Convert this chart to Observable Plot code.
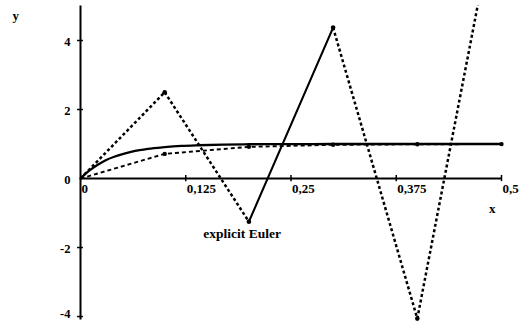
<!DOCTYPE html>
<html>
<head>
<meta charset="utf-8">
<script src="https://cdn.jsdelivr.net/npm/d3@7"></script>
<script src="https://cdn.jsdelivr.net/npm/@observablehq/plot@0.6"></script>
<style>
  html, body { margin: 0; padding: 0; background: #fff; }
  #chart svg { display: block; }
</style>
</head>
<body>
<div id="chart"></div>
<script>
// Axis ticks and their labels (decimal comma)
const xTicks = [0, 0.125, 0.25, 0.375, 0.5];
const xTickLabels = ["0", "0,125", "0,25", "0,375", "0,5"];
const yTicks = [-4, -2, 0, 2, 4];
const yTickLabels = ["-4", "-2", "0", "2", "4"];

// Exact solution of the stiff problem
const exactX = [0, 0.005, 0.01, 0.02, 0.03, 0.04, 0.05, 0.06, 0.07, 0.08, 0.1, 0.12, 0.14, 0.17, 0.2, 0.25, 0.3, 0.4, 0.5];
const exactY = [0, 0.12, 0.22, 0.39, 0.53, 0.63, 0.71, 0.77, 0.82, 0.86, 0.91, 0.945, 0.965, 0.985, 0.993, 0.998, 1, 1, 1];

// Explicit Euler steps (h = 0.1), oscillating
const eulerX = [0, 0.1, 0.2, 0.3, 0.4, 0.5];
const eulerY = [0, 2.5, -1.25, 4.375, -4.06, 8.59];
// segment drawn solid (index of its starting step)
const solidSegment = 2;

// Implicit Euler steps (h = 0.1)
const implicitX = [0, 0.1, 0.2, 0.3, 0.4, 0.5];
const implicitY = [0, 0.714, 0.918, 0.977, 0.993, 0.998];

const exact = exactX.map((x, i) => ({x, y: exactY[i]}));
const euler = eulerX.map((x, i) => ({x, y: eulerY[i]}));
const implicit = implicitX.map((x, i) => ({x, y: implicitY[i]}));

// split explicit Euler into segments so one can be solid
const eulerSegs = [];
for (let i = 0; i < euler.length - 1; i++) {
  eulerSegs.push({seg: i, x: euler[i].x, y: euler[i].y});
  eulerSegs.push({seg: i, x: euler[i + 1].x, y: euler[i + 1].y});
}
const dashedSegs = eulerSegs.filter(d => d.seg !== solidSegment);
const solidSegs = eulerSegs.filter(d => d.seg === solidSegment);

const font = "'Liberation Serif', 'DejaVu Serif', serif";

const chart = Plot.plot({
  width: 519,
  height: 322,
  marginLeft: 80,
  marginRight: 18,
  marginTop: 5.5,
  marginBottom: 2.5,
  x: {domain: [0, 0.5], axis: null},
  y: {domain: [-4.1, 5], axis: null},
  style: {fontFamily: font, background: "#fff"},
  marks: [
    // axes through the origin
    Plot.ruleY([0], {x1: 0, x2: 0.5, stroke: "#000", strokeWidth: 2}),
    Plot.ruleX([0], {y1: -4.1, y2: 5, stroke: "#000", strokeWidth: 2}),
    Plot.ruleX(xTicks.slice(1), {x: d => d, y1: -0.09, y2: 0.09, stroke: "#000", strokeWidth: 1.5}),
    Plot.ruleY(yTicks.filter(d => d !== 0), {y: d => d, x1: -0.0035, x2: 0.0035, stroke: "#000", strokeWidth: 1.5}),
    // tick labels
    Plot.text(xTicks, {x: d => d, y: 0, text: (d, i) => xTickLabels[i], textAnchor: "start", dx: 1, dy: 10,
      fontSize: 13, fontWeight: "bold", fill: "#000"}),
    Plot.text(yTicks, {x: 0, y: d => d, text: (d, i) => yTickLabels[i], textAnchor: "end", dx: -10,
      dy: 1, lineAnchor: "middle", fontSize: 12.5, fontWeight: "bold", fill: "#000",
      filter: d => d !== -4}),
    Plot.text([-4], {x: 0, y: d => d, text: () => yTickLabels[0], textAnchor: "end", dx: -10,
      lineAnchor: "bottom", dy: 1, fontSize: 12.5, fontWeight: "bold", fill: "#000"}),
    // axis names
    Plot.text(["y"], {frameAnchor: "top-left", dx: -68, dy: 5, fontSize: 13, fontWeight: "bold", fill: "#000"}),
    Plot.text(["x"], {x: 0.489, y: -0.87, fontSize: 13, fontWeight: "bold", fill: "#000"}),
    // exact solution
    Plot.line(exact, {x: "x", y: "y", stroke: "#000", strokeWidth: 2.3, curve: "monotone-x"}),
    // implicit Euler
    Plot.line(implicit, {x: "x", y: "y", stroke: "#000", strokeWidth: 1.9, strokeDasharray: "4,3",
      strokeLinecap: "butt"}),
    Plot.dot(implicit.slice(1), {x: "x", y: "y", r: 2.2, fill: "#000"}),
    // explicit Euler
    Plot.line(dashedSegs, {x: "x", y: "y", z: "seg", stroke: "#000", strokeWidth: 2.5, strokeDasharray: "3,2.5",
      strokeLinecap: "butt", clip: true}),
    Plot.line(solidSegs, {x: "x", y: "y", z: "seg", stroke: "#000", strokeWidth: 2.1, clip: true}),
    Plot.dot(euler.slice(1, 5), {x: "x", y: "y", r: 2.3, fill: "#000"}),
    Plot.text(["explicit Euler"], {x: 0.192, y: -1.59, fontSize: 13.5, fontWeight: "bold", fill: "#000"})
  ]
});

document.getElementById("chart").appendChild(chart);
</script>
</body>
</html>
